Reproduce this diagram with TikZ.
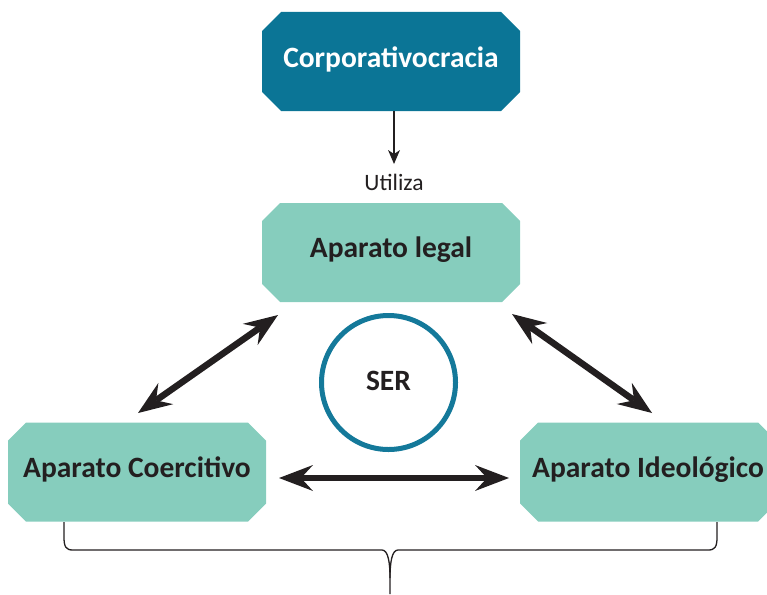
\documentclass[tikz,border=0pt]{standalone}
\usepackage{fontspec}
\setmainfont{Carlito}
\usetikzlibrary{shapes.misc,arrows.meta}
\definecolor{darkteal}{HTML}{0B7596}
\definecolor{lightteal}{HTML}{86CDBD}
\definecolor{ringteal}{HTML}{14799A}
\definecolor{ink}{HTML}{231F20}
\tikzset{
  apbox/.style={chamfered rectangle, chamfered rectangle xsep=13pt,
    chamfered rectangle ysep=13pt, minimum width=258pt, minimum height=99pt,
    inner sep=0pt, text height=10pt, text depth=0pt, text=ink, fill=lightteal,
    font=\bfseries\fontsize{29.5}{31}\selectfont},
  bigtip/.tip={Stealth[length=34pt,width=26pt,inset=12pt,line width=0pt]},
  bigarrow/.style={line width=6.5pt, draw=ink, bigtip-bigtip},
  thinarrow/.style={line width=2pt, draw=ink, -{Stealth[length=14pt,width=12pt,inset=4pt,line width=0pt]}},
  bracepath/.style={line width=1.3pt, draw=ink}
}
\begin{document}
\begin{tikzpicture}[x=1pt,y=-1pt]
\useasboundingbox (0,0) rectangle (767,594);
% boxes
\node[apbox, fill=darkteal, text=white, text height=12pt] (corp) at (391,61.5) {Corporativocracia};
\node[apbox] (legal) at (391,252.5) {Aparato legal};
\node[apbox] (coer) at (137,472) {Aparato Coercitivo};
\node[apbox, minimum width=256pt] (ideo) at (648,472) {Aparato Ideológico};
% circle
\node[circle, draw=ringteal, line width=5pt, minimum size=134pt, inner sep=0pt,
  text=ink, text height=15pt, text depth=0pt,
  font=\bfseries\fontsize{29.5}{31}\selectfont] (ser) at (388.5,382.5) {SER};
% label
\node[anchor=base, text=ink, font=\fontsize{23.5}{25}\selectfont, inner sep=0pt] (util) at (394,190) {Utiliza};
% connector coordinates
\coordinate (t1) at (394,111);
\coordinate (t2) at (394,164);
\coordinate (l1) at (138,413);
\coordinate (l2) at (278,315);
\coordinate (r1) at (512,314);
\coordinate (r2) at (652,413);
\coordinate (h1) at (279,478);
\coordinate (h2) at (509,478);
\draw[thinarrow] (t1) -- (t2);
\draw[bigarrow] (l1) -- (l2);
\draw[bigarrow] (r1) -- (r2);
\draw[bigarrow] (h1) -- (h2);
% brace
\coordinate (bL) at (64,522);
\coordinate (bR) at (717,522);
\coordinate (bM) at (390,594);
\draw[bracepath] (bL) -- (64,537) .. controls (64,547) and (66,550) .. (73,550)
  -- (382,550) .. controls (388,550) and (390,562) .. (390,578) -- (bM);
\draw[bracepath] (bR) -- (717,537) .. controls (717,547) and (715,550) .. (708,550)
  -- (398,550) .. controls (392,550) and (390,562) .. (390,578);
\end{tikzpicture}
\end{document}
